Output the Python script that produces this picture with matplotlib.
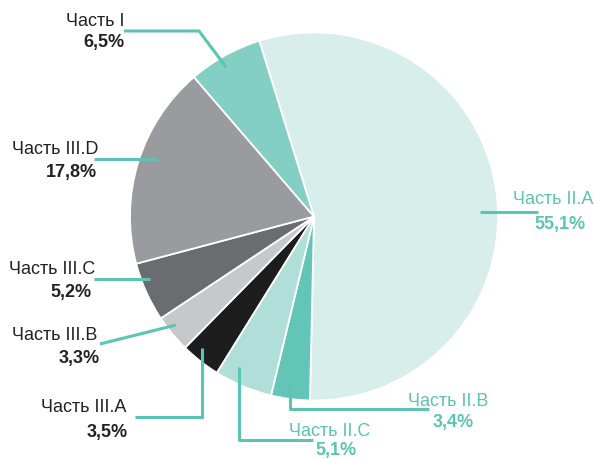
import matplotlib.pyplot as plt
import matplotlib

matplotlib.rcParams['font.family'] = ['Liberation Sans', 'DejaVu Sans']

# данные
parts = ['Часть II.A', 'Часть II.B', 'Часть II.C', 'Часть III.A',
         'Часть III.B', 'Часть III.C', 'Часть III.D', 'Часть I']
shares = [55.1, 3.4, 5.1, 3.5, 3.3, 5.2, 17.8, 6.5]
share_labels = ['55,1%', '3,4%', '5,1%', '3,5%', '3,3%', '5,2%', '17,8%', '6,5%']
colors = ['#d7eeea', '#62c5b8', '#afdfd8', '#1e1d1e',
          '#c7c8c9', '#6b6c6f', '#9a9b9e', '#84cfc4']

W, H = 594, 459
TEAL = '#5bc4b4'
DARK = '#222222'


def P(x, y):
    # пиксели картинки (y вниз) -> координаты осей
    return x, H - y


fig = plt.figure(figsize=(W / 100, H / 100), dpi=100)
ax = fig.add_axes([0, 0, 1, 1])
ax.pie(shares, colors=colors, startangle=107.3, counterclock=False,
       center=P(314, 216.5), radius=184,
       wedgeprops=dict(edgecolor='white', linewidth=1.3))
ax.set_xlim(0, W)
ax.set_ylim(0, H)
ax.set_aspect('equal')
ax.axis('off')

# подписи: (линия-выноска, позиция названия, позиция процента, выравнивание, цвет)
layout = {
    'Часть I': ([(226, 67), (199, 31), (124, 31)], (125, 21), (125, 43), 'right', DARK),
    'Часть III.D': ([(157, 159), (94, 159)], (98, 149), (97, 172), 'right', DARK),
    'Часть III.C': ([(150, 279), (94, 279)], (95, 270), (92, 293), 'right', DARK),
    'Часть III.B': ([(176, 325), (100, 344)], (97, 335), (100, 359), 'right', DARK),
    'Часть III.A': ([(202, 348), (202, 417), (135, 417)], (126, 408), (128, 433), 'right', DARK),
    'Часть II.C': ([(239, 367), (239, 440), (313, 440)], (289, 431), (315, 450), 'left', TEAL),
    'Часть II.B': ([(290, 385), (290, 409), (429, 409)], (408, 401), (433, 423), 'left', TEAL),
    'Часть II.A': ([(480, 212), (538, 212)], (593, 200), (586, 225), 'right', TEAL),
}

for name, pct in zip(parts, share_labels):
    line, lab_xy, pct_xy, ha, col = layout[name]
    xs, ys = zip(*[P(x, y) for x, y in line])
    ax.plot(xs, ys, color=TEAL, lw=2.2, solid_capstyle='butt', zorder=3)
    ax.text(*P(*lab_xy), name, ha=ha, va='center', fontsize=13, color=col)
    ax.text(*P(*pct_xy), pct, ha=ha, va='center', fontsize=13,
            fontweight='bold', color=col)

fig.savefig('out.png', dpi=100)
